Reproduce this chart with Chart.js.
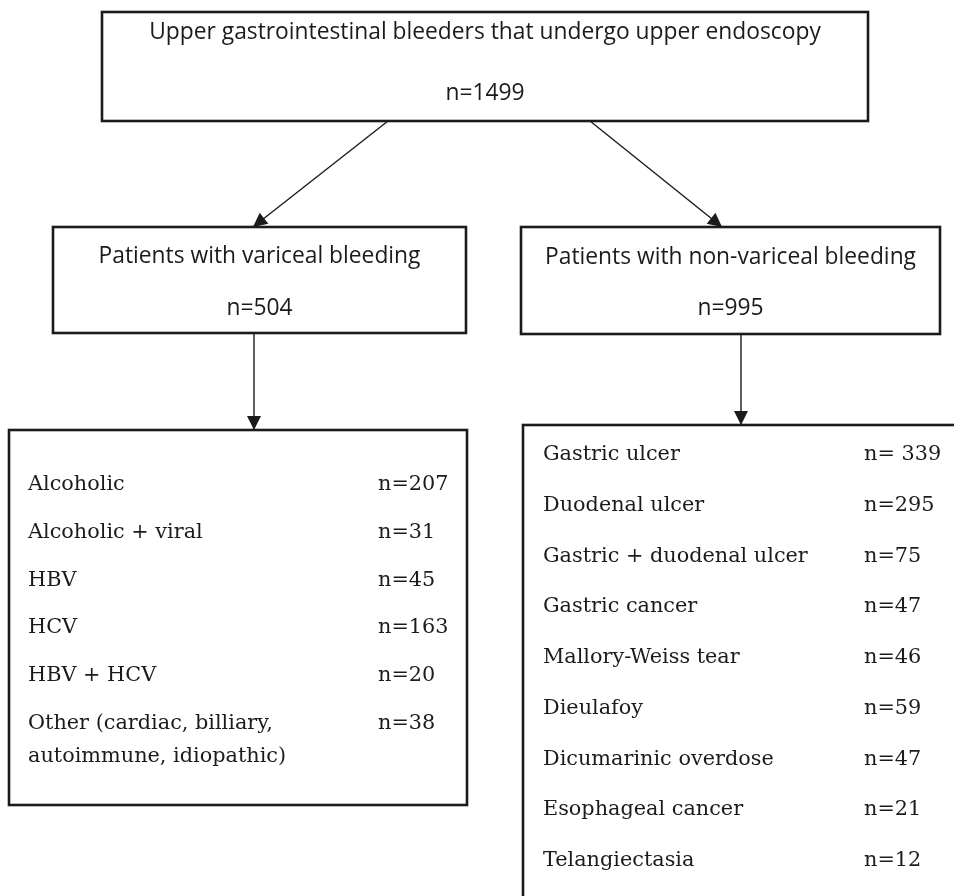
<!DOCTYPE html>
<html>
<head>
<meta charset="utf-8">
<script src="https://cdn.jsdelivr.net/npm/chart.js@4.4.1/dist/chart.umd.min.js"></script>
<style>
  html, body { margin: 0; padding: 0; background: #ffffff; }
  canvas { display: block; }
</style>
</head>
<body>
<canvas id="c" width="954" height="896"></canvas>
<script>
// ---------- DATA ----------
const rootLabel = "Upper gastrointestinal bleeders that undergo upper endoscopy";
const rootTotal = 1499;
const groupLabels = ["Patients with variceal bleeding", "Patients with non-variceal bleeding"];
const groupTotals = [504, 995];
const varicealCauses = [
  ["Alcoholic"],
  ["Alcoholic + viral"],
  ["HBV"],
  ["HCV"],
  ["HBV + HCV"],
  ["Other (cardiac, billiary,", "autoimmune, idiopathic)"]
];
const varicealCounts = [207, 31, 45, 163, 20, 38];
const nonVaricealCauses = [
  "Gastric ulcer",
  "Duodenal ulcer",
  "Gastric + duodenal ulcer",
  "Gastric cancer",
  "Mallory-Weiss tear",
  "Dieulafoy",
  "Dicumarinic overdose",
  "Esophageal cancer",
  "Telangiectasia"
];
const nonVaricealCounts = [339, 295, 75, 47, 46, 59, 47, 21, 12];
const varicealCountLabels = varicealCounts.map(v => "n=" + v);
const nonVaricealCountLabels = nonVaricealCounts.map((v, i) => (i === 0 ? "n= " : "n=") + v);

// ---------- LAYOUT (canvas units, mapped through the chart scales) ----------
const L = {
  root:  { x0: 102, y0: 12,  x1: 868, y1: 121, line1: 39,  line2: 100 },
  left:  { x0: 53,  y0: 227, x1: 466, y1: 333, line1: 263, line2: 315 },
  right: { x0: 521, y0: 227, x1: 940, y1: 334, line1: 264, line2: 315 },
  leftList:  { x0: 9,   y0: 430, x1: 467, y1: 805, labelX: 28,  valueX: 378, firstBaseline: 490, step: 47.8, wrapStep: 33 },
  rightList: { x0: 523, y0: 425, x1: 990, y1: 920, labelX: 543, valueX: 864, firstBaseline: 460, step: 50.75 },
  arrows: [
    { from: [388, 121], to: [253, 227] },
    { from: [590, 121], to: [722, 227] },
    { from: [254, 333], to: [254, 430] },
    { from: [741, 334], to: [741, 425] }
  ]
};
const INK = "#1b1b1b";
const SANS = '"Open Sans", "Noto Sans", sans-serif';
const SERIF = '"DejaVu Serif", "Liberation Serif", serif';
const SANS_SIZE = 22.8;
const SERIF_SIZE = 20.8;

const connectorSets = L.arrows.map(a => ({
  data: [{ x: a.from[0], y: a.from[1] }, { x: a.to[0], y: a.to[1] }],
  showLine: true,
  borderColor: INK,
  borderWidth: 1.4,
  pointRadius: 0,
  pointHoverRadius: 0,
  fill: false
}));

const flowPlugin = {
  id: "flow",
  beforeDraw(chart) {
    const ctx = chart.ctx;
    ctx.save();
    ctx.fillStyle = "#ffffff";
    ctx.fillRect(0, 0, chart.width, chart.height);
    ctx.restore();
  },
  afterDatasetsDraw(chart) {
    const ctx = chart.ctx;
    const xs = chart.scales.x, ys = chart.scales.y;
    const px = v => xs.getPixelForValue(v);
    const py = v => ys.getPixelForValue(v);

    function box(b) {
      ctx.save();
      ctx.strokeStyle = INK;
      ctx.lineWidth = 2.6;
      ctx.strokeRect(px(b.x0), py(b.y0), px(b.x1) - px(b.x0), py(b.y1) - py(b.y0));
      ctx.restore();
    }
    function text(str, x, y, font, align) {
      ctx.save();
      ctx.fillStyle = INK;
      ctx.font = font;
      ctx.textAlign = align;
      ctx.textBaseline = "alphabetic";
      ctx.fillText(str, px(x), py(y));
      ctx.restore();
    }

    // arrowheads
    L.arrows.forEach(a => {
      const x1 = px(a.to[0]), y1 = py(a.to[1]);
      const x0 = px(a.from[0]), y0 = py(a.from[1]);
      const ang = Math.atan2(y1 - y0, x1 - x0);
      const len = 14, half = 7;
      ctx.save();
      ctx.fillStyle = INK;
      ctx.beginPath();
      ctx.moveTo(x1, y1);
      ctx.lineTo(x1 - len * Math.cos(ang) + half * Math.sin(ang), y1 - len * Math.sin(ang) - half * Math.cos(ang));
      ctx.lineTo(x1 - len * Math.cos(ang) - half * Math.sin(ang), y1 - len * Math.sin(ang) + half * Math.cos(ang));
      ctx.closePath();
      ctx.fill();
      ctx.restore();
    });

    const sans = SANS_SIZE + "px " + SANS;
    const serif = SERIF_SIZE + "px " + SERIF;

    // root box
    box(L.root);
    const rc = (L.root.x0 + L.root.x1) / 2;
    text(rootLabel, rc, L.root.line1, sans, "center");
    text("n=" + rootTotal, rc, L.root.line2, sans, "center");

    // group boxes
    [L.left, L.right].forEach((b, i) => {
      box(b);
      const c = (b.x0 + b.x1) / 2;
      text(groupLabels[i], c, b.line1, sans, "center");
      text("n=" + groupTotals[i], c, b.line2, sans, "center");
    });

    // variceal list
    box(L.leftList);
    let y = L.leftList.firstBaseline;
    varicealCauses.forEach((lines, i) => {
      text(varicealCountLabels[i], L.leftList.valueX, y, serif, "left");
      lines.forEach((ln, j) => {
        text(ln, L.leftList.labelX, y + j * L.leftList.wrapStep, serif, "left");
      });
      y += L.leftList.step + (lines.length - 1) * L.leftList.wrapStep;
    });

    // non-variceal list
    box(L.rightList);
    nonVaricealCauses.forEach((lab, i) => {
      const yy = L.rightList.firstBaseline + i * L.rightList.step;
      text(lab, L.rightList.labelX, yy, serif, "left");
      text(nonVaricealCountLabels[i], L.rightList.valueX, yy, serif, "left");
    });
  }
};

new Chart(document.getElementById("c"), {
  type: "scatter",
  data: { datasets: connectorSets },
  options: {
    responsive: false,
    animation: false,
    devicePixelRatio: 1,
    layout: { padding: 0 },
    events: [],
    scales: {
      x: { type: "linear", min: 0, max: 954, display: false },
      y: { type: "linear", min: 0, max: 896, reverse: true, display: false }
    },
    plugins: { legend: { display: false }, tooltip: { enabled: false } }
  },
  plugins: [flowPlugin]
});
</script>
</body>
</html>
